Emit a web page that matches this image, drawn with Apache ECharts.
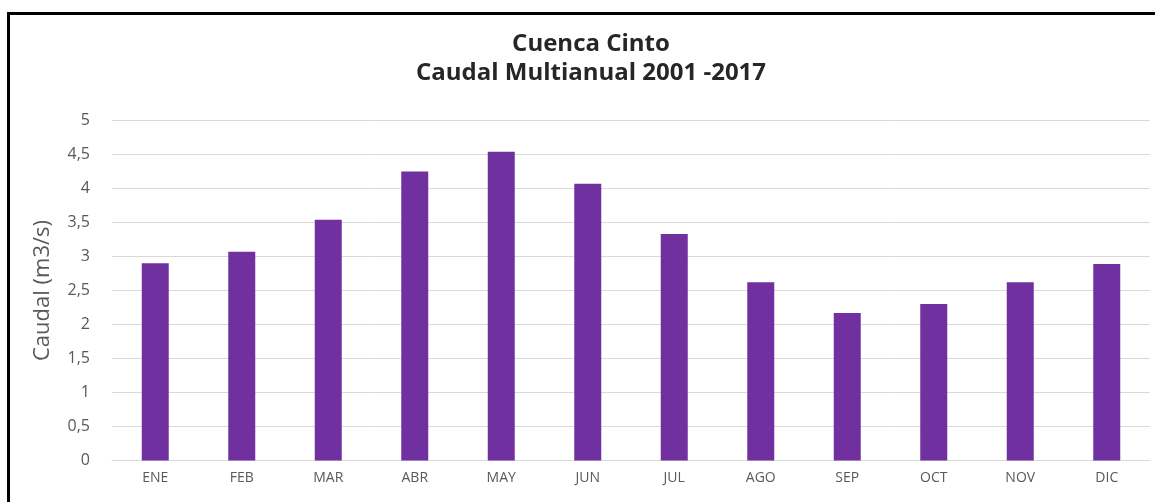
<!DOCTYPE html>
<html>
<head>
<meta charset="utf-8">
<script src="https://cdn.jsdelivr.net/npm/echarts@6/dist/echarts.min.js"></script>
<style>
  html, body { margin: 0; padding: 0; background: #ffffff; }
  #chart { width: 1155px; height: 502px; }
</style>
</head>
<body>
<div id="chart"></div>
<script>
// Monthly mean discharge, Cinto basin (2001-2017)
const months = ['ENE', 'FEB', 'MAR', 'ABR', 'MAY', 'JUN', 'JUL', 'AGO', 'SEP', 'OCT', 'NOV', 'DIC'];
const caudal = [2.9, 3.07, 3.54, 4.25, 4.54, 4.07, 3.33, 2.62, 2.17, 2.3, 2.62, 2.89];
const titleLines = ['Cuenca Cinto', 'Caudal Multianual 2001 -2017'];
const yAxisName = 'Caudal (m3/s)';

const chart = echarts.init(document.getElementById('chart'), null, { renderer: 'canvas' });

chart.setOption({
  animation: false,
  backgroundColor: '#ffffff',
  title: {
    text: titleLines.join('\n'),
    left: 586,
    textAlign: 'center',
    top: 25,
    textStyle: {
      fontFamily: 'Open Sans',
      fontWeight: 'bold',
      fontSize: 24,
      lineHeight: 29,
      color: '#262626'
    }
  },
  // outer frame of the chart area
  graphic: [{
    type: 'rect',
    silent: true,
    shape: { x: 8.5, y: 13.5, width: 1200, height: 600 },
    style: { fill: 'none', stroke: '#000000', lineWidth: 3 }
  }],
  grid: {
    left: 112,
    right: 5,
    top: 120.5,
    bottom: 41.5,
    containLabel: false
  },
  xAxis: {
    type: 'category',
    data: months,
    axisTick: { show: false },
    axisLine: { show: true, lineStyle: { color: '#d9d9d9', width: 1 } },
    axisLabel: {
      margin: 11,
      fontFamily: 'Open Sans',
      fontSize: 14,
      color: '#595959'
    }
  },
  yAxis: {
    type: 'value',
    min: 0,
    max: 5,
    interval: 0.5,
    name: yAxisName,
    nameLocation: 'middle',
    nameGap: 58,
    nameRotate: 90,
    nameTextStyle: {
      fontFamily: 'Open Sans',
      fontSize: 22,
      color: '#595959'
    },
    axisLine: { show: false },
    axisTick: { show: false },
    axisLabel: {
      margin: 22,
      fontFamily: 'Open Sans',
      fontSize: 16,
      color: '#595959',
      formatter: v => String(v).replace('.', ',')
    },
    splitLine: { lineStyle: { color: '#d9d9d9', width: 1 } }
  },
  series: [{
    type: 'bar',
    data: caudal,
    barWidth: 27,
    itemStyle: { color: '#7030a0' }
  }]
});
</script>
</body>
</html>
